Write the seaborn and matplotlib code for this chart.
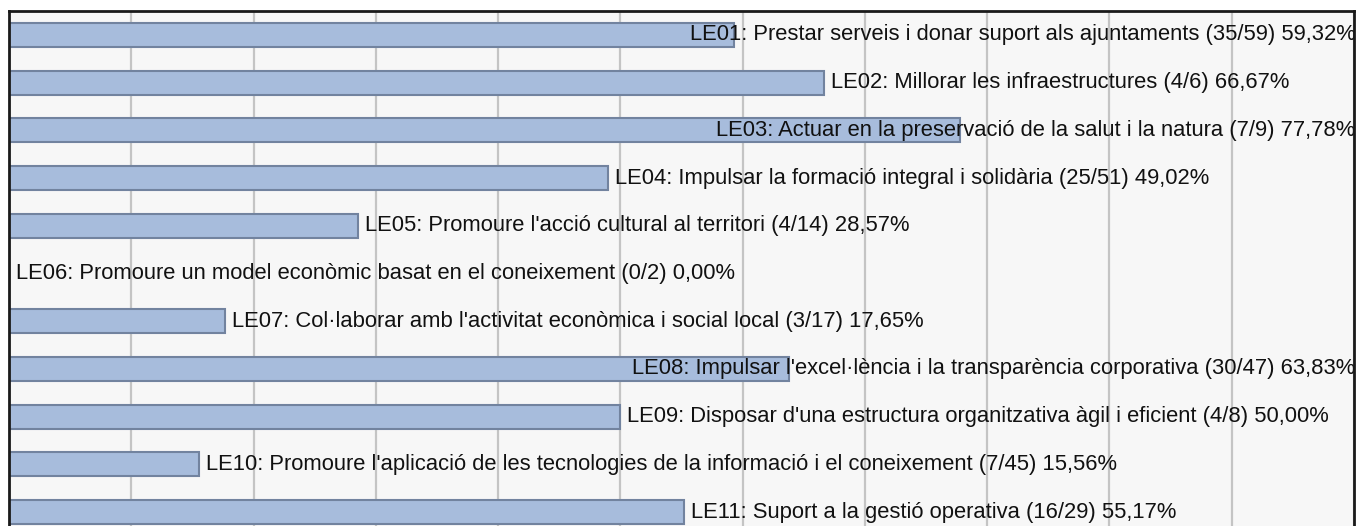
import matplotlib
matplotlib.use("Agg")
import matplotlib.pyplot as plt
import seaborn as sns
import pandas as pd

codes = ["LE01", "LE02", "LE03", "LE04", "LE05", "LE06", "LE07", "LE08", "LE09", "LE10", "LE11"]
names = [
    "Prestar serveis i donar suport als ajuntaments",
    "Millorar les infraestructures",
    "Actuar en la preservació de la salut i la natura",
    "Impulsar la formació integral i solidària",
    "Promoure l'acció cultural al territori",
    "Promoure un model econòmic basat en el coneixement",
    "Col·laborar amb l'activitat econòmica i social local",
    "Impulsar l'excel·lència i la transparència corporativa",
    "Disposar d'una estructura organitzativa àgil i eficient",
    "Promoure l'aplicació de les tecnologies de la informació i el coneixement",
    "Suport a la gestió operativa",
]
done = [35, 4, 7, 25, 4, 0, 3, 30, 4, 7, 16]
total = [59, 6, 9, 51, 14, 2, 17, 47, 8, 45, 29]
pct = [59.32, 66.67, 77.78, 49.02, 28.57, 0.00, 17.65, 63.83, 50.00, 15.56, 55.17]

df = pd.DataFrame({"code": codes, "pct": pct})

sns.set_style("white")
plt.rcParams["font.family"] = ["Liberation Sans", "DejaVu Sans"]

W, H = 1358, 526
fig = plt.figure(figsize=(W / 100, H / 100), dpi=100)
fig.patch.set_facecolor("white")
left, right, top = 9, 1354, 11
ax = fig.add_axes([left / W, 0, (right - left) / W, 1 - top / H])
ax.set_facecolor("#f7f7f7")

sns.barplot(
    data=df, x="pct", y="code", orient="h",
    color="#a7bcdc", saturation=1, width=0.5,
    edgecolor="#72839f", linewidth=1.5, ax=ax, zorder=2,
)

ax.set_xlim(0, 110)
ax.set_ylim(10.29, -0.5)
ax.set_xticks(range(0, 111, 10))
ax.set_xticklabels([])
ax.set_yticks([])
ax.set_xlabel("")
ax.set_ylabel("")
ax.tick_params(length=0)
ax.grid(axis="x", color="#c4c4c4", linewidth=1.6, zorder=0)
ax.set_axisbelow(True)

for side in ["left", "top", "right"]:
    ax.spines[side].set_visible(True)
    ax.spines[side].set_color("#1a1a1a")
    ax.spines[side].set_linewidth(2)
    ax.spines[side].set_zorder(4)
ax.spines["bottom"].set_visible(False)

texts = []
for i, (c, n, a, b, p) in enumerate(zip(codes, names, done, total, pct)):
    label = f"{c}: {n} ({a}/{b}) {p:.2f}%".replace(".", ",")
    t = ax.annotate(label, xy=(p, i), xytext=(5, 0), textcoords="offset points",
                    ha="left", va="center", fontsize=15.8, color="#111111", zorder=3)
    texts.append(t)

fig.canvas.draw()
renderer = fig.canvas.get_renderer()
for t in texts:
    bb = t.get_window_extent(renderer)
    if bb.x1 > right:
        t.xy = (110, t.xy[1])
        t.set_position((1, 0))
        t.set_ha("right")

fig.savefig("out.png", dpi=100)
